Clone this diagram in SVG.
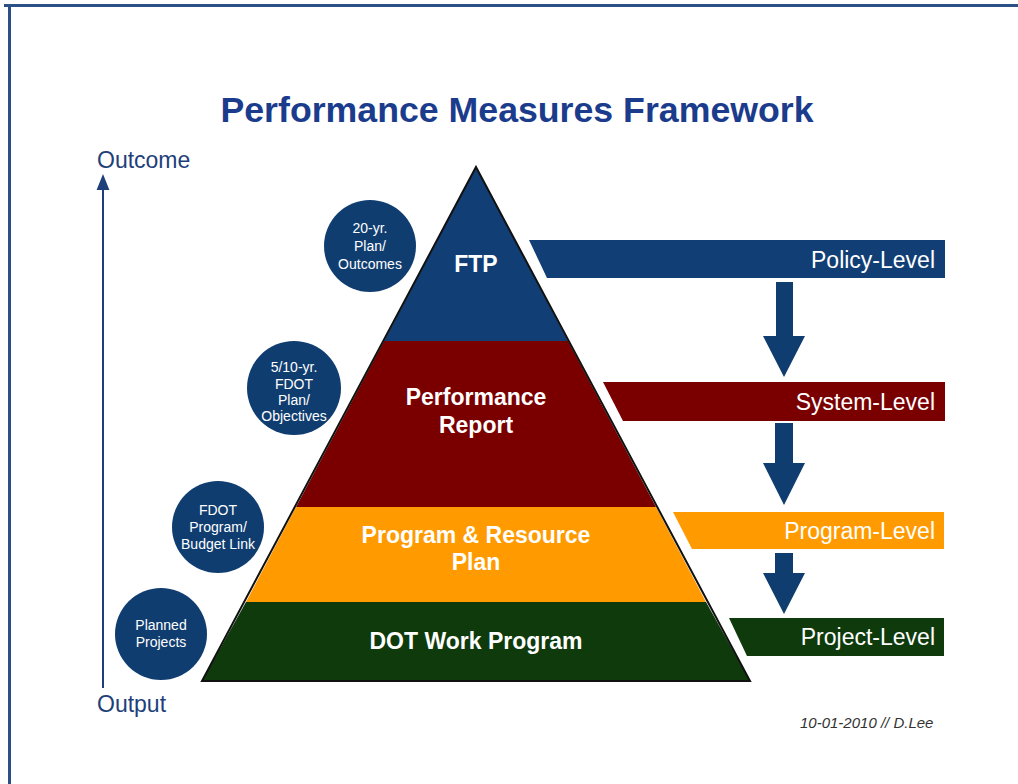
<svg xmlns="http://www.w3.org/2000/svg" width="1018" height="784" viewBox="0 0 1018 784">
<style>
.title{font-family:"Liberation Sans",Arial,sans-serif;font-weight:bold;font-size:35.7px;fill:#1B3C8C}
.axis{font-family:"Liberation Sans",Arial,sans-serif;font-size:23px;fill:#1F3F7A}
.tier{font-family:"Liberation Sans",Arial,sans-serif;font-weight:bold;font-size:23px;fill:#ffffff;text-anchor:middle}
.lvl{font-family:"Liberation Sans",Arial,sans-serif;font-size:23px;fill:#ffffff;text-anchor:end}
.circ{font-family:"Liberation Sans",Arial,sans-serif;font-size:14px;fill:#ffffff;text-anchor:middle}
.sig{font-family:"Liberation Sans",Arial,sans-serif;font-style:italic;font-size:15px;fill:#333333}
.dot{fill:#0F3D70}
.arr{fill:#0F3D70}
</style>
<defs>
<marker id="ah" viewBox="0 0 10 10" refX="5" refY="5" markerWidth="8" markerHeight="8" orient="auto">
<path d="M0,1 L10,5 L0,9 z" fill="#1F3F7A"/>
</marker>
</defs>
<rect width="1018" height="784" fill="#ffffff"/>
<rect x="4" y="4" width="1014" height="3" fill="#2A5086"/>
<rect x="8" y="4" width="3" height="780" fill="#2A5086"/>

<text class="title" x="517" y="122" text-anchor="middle">Performance Measures Framework</text>

<g id="axis">
<line x1="103" y1="688" x2="103" y2="182" stroke="#1F3F7A" stroke-width="2" marker-end="url(#ah)"/>
<text class="axis" x="97" y="168">Outcome</text>
<text class="axis" x="97" y="712">Output</text>
</g>

<g id="tier-ftp">
<polygon points="476,167 568,341 384,341" fill="#113E74"/>
<text class="tier" x="476" y="272">FTP</text>
</g>
<g id="tier-performance">
<polygon points="384,341 568,341 656,507 296,507" fill="#7A0000"/>
<text class="tier" x="476" y="405">Performance</text>
<text class="tier" x="476" y="433">Report</text>
</g>
<g id="tier-program">
<polygon points="296,507 656,507 706,602 246,602" fill="#FF9B00"/>
<text class="tier" x="476" y="543">Program &amp; Resource</text>
<text class="tier" x="476" y="570">Plan</text>
</g>
<g id="tier-work">
<polygon points="246,602 706,602 750,681 202,681" fill="#0F3A0C"/>
<text class="tier" x="476" y="649">DOT Work Program</text>
</g>
<polygon points="476,167 750,681 202,681" fill="none" stroke="#111111" stroke-width="2" stroke-linejoin="miter"/>

<g id="circle-20yr">
<circle class="dot" cx="370" cy="246" r="46"/>
<text class="circ" x="370" y="233">20-yr.</text>
<text class="circ" x="370" y="251">Plan/</text>
<text class="circ" x="370" y="269">Outcomes</text>
</g>
<g id="circle-510yr">
<circle class="dot" cx="294" cy="388" r="47"/>
<text class="circ" x="294" y="372">5/10-yr.</text>
<text class="circ" x="294" y="389">FDOT</text>
<text class="circ" x="294" y="405">Plan/</text>
<text class="circ" x="294" y="421">Objectives</text>
</g>
<g id="circle-budget">
<circle class="dot" cx="218" cy="527" r="46"/>
<text class="circ" x="218" y="515">FDOT</text>
<text class="circ" x="218" y="532">Program/</text>
<text class="circ" x="218" y="549">Budget Link</text>
</g>
<g id="circle-projects">
<circle class="dot" cx="161" cy="634" r="46"/>
<text class="circ" x="161" y="630">Planned</text>
<text class="circ" x="161" y="647">Projects</text>
</g>

<g id="policy-level">
<polygon points="529,240 945,240 945,278 547,278" fill="#113E74"/>
<text class="lvl" x="935" y="268">Policy-Level</text>
</g>
<g id="system-level">
<polygon points="603,382 945,382 945,421 623,421" fill="#7A0000"/>
<text class="lvl" x="935" y="410">System-Level</text>
</g>
<g id="program-level">
<polygon points="673,512 944,512 944,549 692,549" fill="#FF9B00"/>
<text class="lvl" x="935" y="539">Program-Level</text>
</g>
<g id="project-level">
<polygon points="729,618 944,618 944,656 747,656" fill="#0F3A0C"/>
<text class="lvl" x="935" y="645">Project-Level</text>
</g>

<g id="connectors">
<polygon class="arr" points="776,282 793,282 793,336 805,336 784,377 763,336 776,336"/>
<polygon class="arr" points="775,423 793,423 793,463 805,463 784,505 763,463 775,463"/>
<polygon class="arr" points="775,553 793,553 793,573 805,573 784,614 763,573 775,573"/>
</g>

<text class="sig" x="800" y="728">10-01-2010 // D.Lee</text>
</svg>
